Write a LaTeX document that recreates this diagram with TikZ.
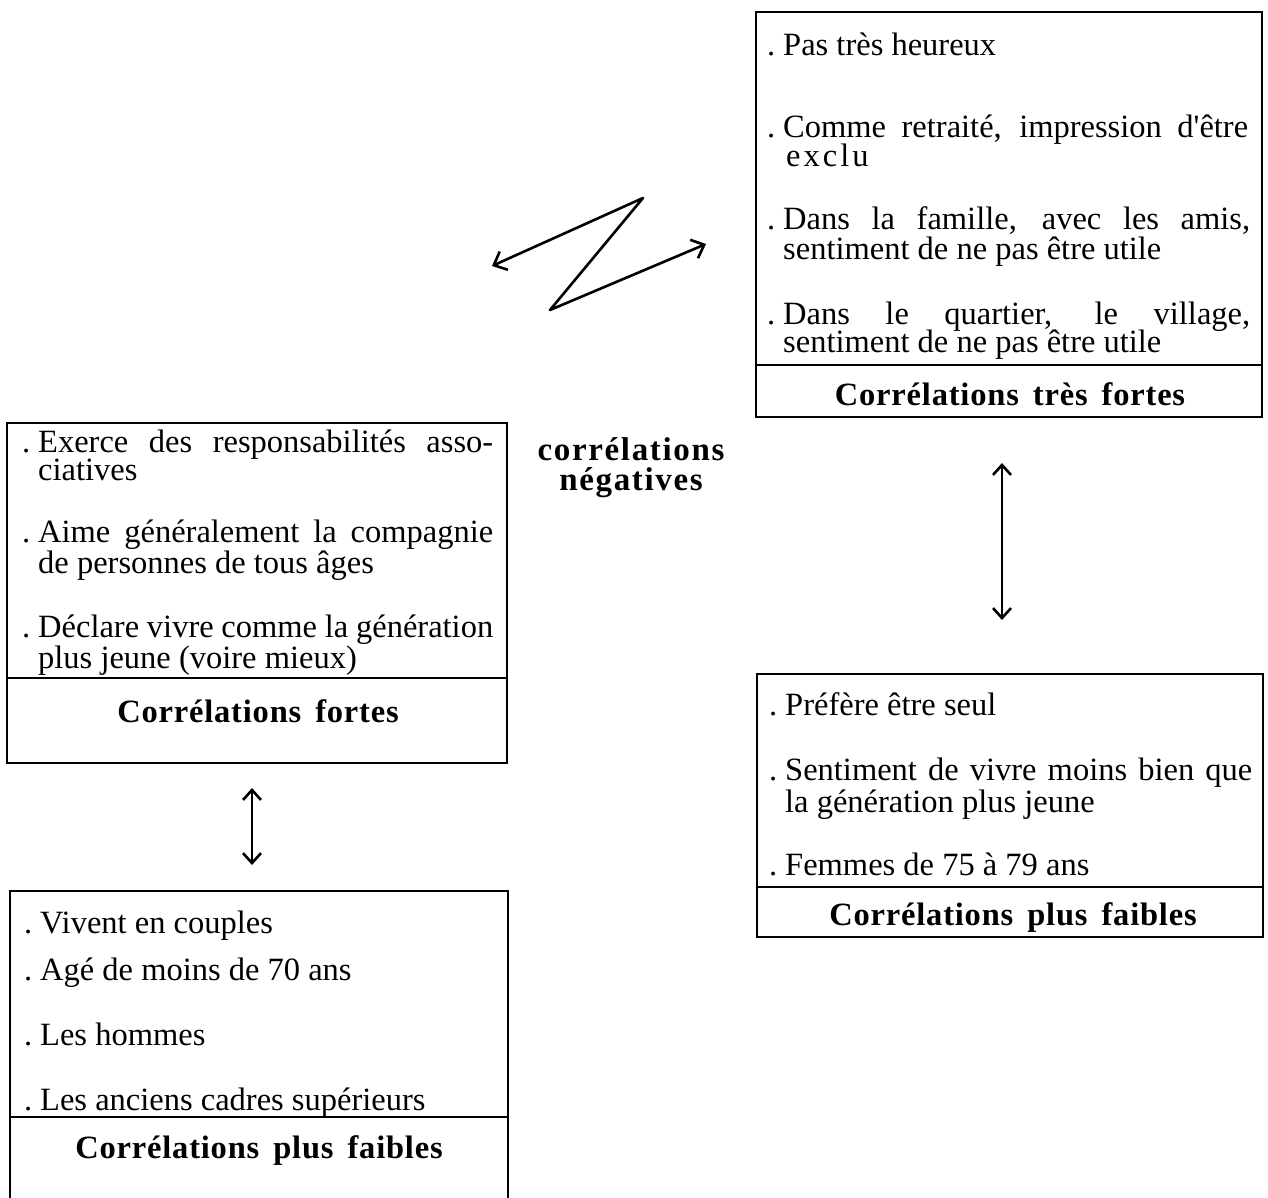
\documentclass[tikz,border=0pt]{standalone}
\usepackage{fontspec}
\setmainfont{Liberation Serif}
\newfontfamily\ttlfont[LetterSpace=2.5]{Liberation Serif}
\newfontfamily\lblfont[LetterSpace=5]{Liberation Serif}
\usetikzlibrary{arrows.meta}
\begin{document}
\begin{tikzpicture}[x=1pt,y=-1pt,
  boxx/.style={draw, line width=2.6pt, inner sep=0pt, outer sep=0pt, anchor=north west},
  sep/.style={line width=2.6pt},
  ln/.style={anchor=base west, inner sep=0pt, font=\fontsize{32.5}{30}\selectfont},
  ttl/.style={anchor=base, inner sep=0pt, font=\fontsize{32.5}{30}\selectfont\ttlfont\bfseries},
  lbl/.style={anchor=base, inner sep=0pt, font=\fontsize{33}{30}\selectfont\lblfont\bfseries},
  dbl/.style={line width=2.6pt, {Straight Barb[length=10pt,width=18pt,line width=2.6pt]}-{Straight Barb[length=10pt,width=18pt,line width=2.6pt]}},
  zz/.style={line width=2.6pt, line join=round, {Straight Barb[length=11pt,width=20pt,line width=2.6pt]}-{Straight Barb[length=11pt,width=20pt,line width=2.6pt]}}
]
\path[use as bounding box, clip] (0,0) rectangle (1268,1198);
\fill[white] (0,0) rectangle (1268,1198);
\newcommand{\dt}{\llap{.\hspace{8pt}}}

% boxes
\node[boxx, minimum width=506pt, minimum height=405pt] (tr) at (756,12) {};
\node[boxx, minimum width=500pt, minimum height=340pt] (lm) at (7,423) {};
\node[boxx, minimum width=498pt, minimum height=340pt] (bl) at (10,891) {};
\node[boxx, minimum width=506pt, minimum height=263pt] (br) at (757,674) {};
\draw[sep] (tr.west |- 0,365) -- (tr.east |- 0,365);
\draw[sep] (lm.west |- 0,678) -- (lm.east |- 0,678);
\draw[sep] (bl.west |- 0,1117) -- (bl.east |- 0,1117);
\draw[sep] (br.west |- 0,887) -- (br.east |- 0,887);

% top right
\node[ln] (t1) at (783,56) {\dt Pas très heureux};
\node[ln] (t2) at (783,138) {\dt\makebox[465pt][s]{Comme retraité, impression d\textquotesingle être}};
\node[ln] (t3) at (786,167) {e\kern3pt x\kern3pt c\kern3pt l\kern3pt u};
\node[ln] (t4) at (783,230) {\dt\makebox[467pt][s]{Dans la famille, avec les amis,}};
\node[ln] (t5) at (783,260) {sentiment de ne pas être utile};
\node[ln] (t6) at (783,324) {\dt\makebox[467pt][s]{Dans le quartier, le village,}};
\node[ln] (t7) at (783,352) {sentiment de ne pas être utile};
\node[ttl] (tt) at (1010,405) {Corrélations\hspace{14pt}très\hspace{14pt}fortes};

% left middle
\node[ln] (m1) at (38,452) {\dt\makebox[455pt][s]{Exerce des responsabilités asso-}};
\node[ln] (m2) at (38,480) {ciatives};
\node[ln] (m3) at (38,542) {\dt\makebox[455pt][s]{Aime généralement la compagnie}};
\node[ln] (m4) at (38,573) {de personnes de tous âges};
\node[ln] (m5) at (38,637) {\dt\makebox[455pt][s]{Déclare vivre comme la génération}};
\node[ln] (m6) at (38,668) {plus jeune (voire mieux)};
\node[ttl] (mt) at (258,722) {Corrélations\hspace{14pt}fortes};

% bottom left
\node[ln] (b1) at (40,933) {\dt Vivent en couples};
\node[ln] (b2) at (40,980) {\dt Agé de moins de 70 ans};
\node[ln] (b3) at (40,1045) {\dt Les hommes};
\node[ln] (b4) at (40,1110) {\dt Les anciens cadres supérieurs};
\node[ttl] (bt) at (259,1158) {Corrélations\hspace{14pt}plus\hspace{14pt}faibles};

% bottom right
\node[ln] (r1) at (785,715) {\dt Préfère être seul};
\node[ln] (r2) at (785,780) {\dt\makebox[467pt][s]{Sentiment de vivre moins bien que}};
\node[ln] (r3) at (785,812) {la génération plus jeune};
\node[ln] (r4) at (785,875) {\dt Femmes de 75 à 79 ans};
\node[ttl] (rt) at (1013,925) {Corrélations\hspace{14pt}plus\hspace{14pt}faibles};

% label
\node[lbl] (n1) at (631,460) {corrélations};
\node[lbl] (n2) at (631,490) {négatives};

% arrows
\coordinate (ra) at (1002,463);
\coordinate (rb) at (1002,620);
\coordinate (la) at (252,788);
\coordinate (lb) at (252,865);
\draw[dbl] (ra) -- (rb);
\draw[dbl] (la) -- (lb);
\coordinate (zl) at (492,266);
\coordinate (zt) at (643,198);
\coordinate (zb) at (550,310);
\coordinate (zr) at (706,244);
\draw[zz] (zl) -- (zt) -- (zb) -- (zr);
\end{tikzpicture}
\end{document}
